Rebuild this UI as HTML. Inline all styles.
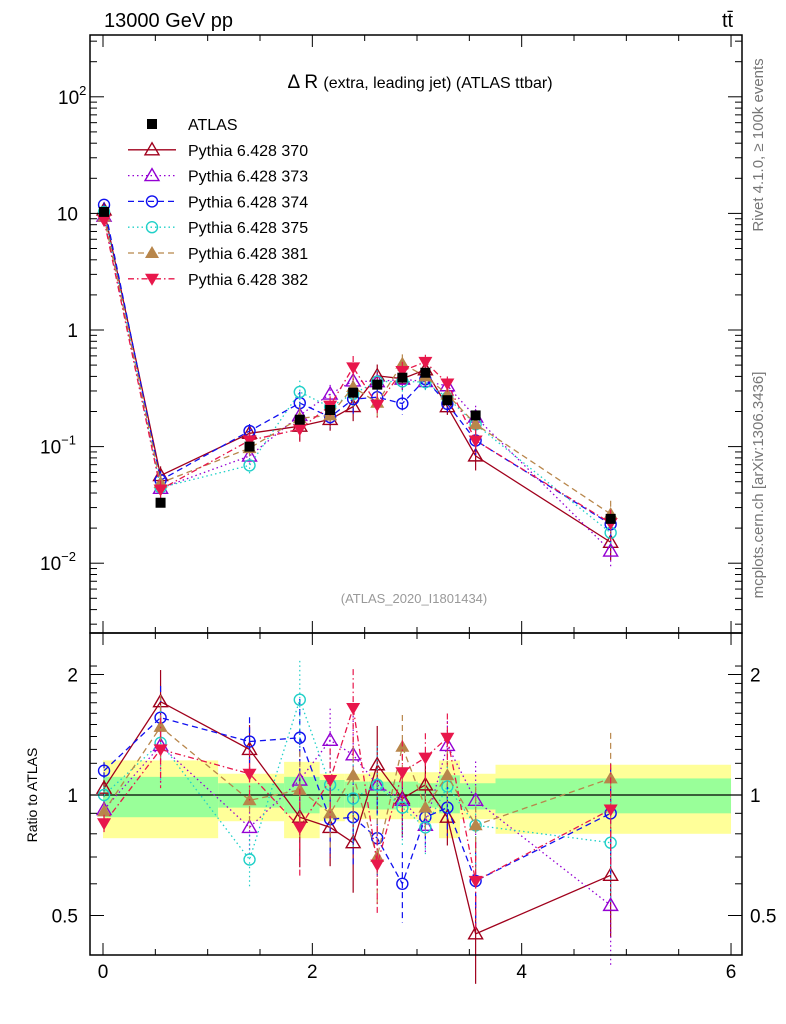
<!DOCTYPE html>
<html><head><meta charset="utf-8"><style>
html,body{margin:0;padding:0;background:#fff;}
svg{display:block;font-family:"Liberation Sans",sans-serif;}
</style></head><body>
<svg id="chart" width="786" height="1024" viewBox="0 0 786 1024" xmlns="http://www.w3.org/2000/svg">
<text x="104" y="27" font-size="20">13000 GeV pp</text>
<text x="722" y="27" font-size="20">tt̄</text>
<text x="420" y="88" font-size="19" text-anchor="middle">Δ R <tspan font-size="16">(extra, leading jet) (ATLAS ttbar)</tspan></text>
<text x="414" y="603" font-size="13" fill="#999" text-anchor="middle">(ATLAS_2020_I1801434)</text>
<text transform="translate(763,145) rotate(-90)" font-size="15" fill="#777" text-anchor="middle">Rivet 4.1.0, ≥ 100k events</text>
<text transform="translate(763,485) rotate(-90)" font-size="15" fill="#777" text-anchor="middle">mcplots.cern.ch [arXiv:1306.3436]</text>
<text transform="translate(37,795) rotate(-90)" font-size="14" text-anchor="middle">Ratio to ATLAS</text>
<g id="bands"></g>
<g id="main"></g>
<g id="ratio"></g>
<g id="axes"></g>
<g id="legend"></g>
</svg>
<script>
const xs = [0.01,0.55,1.4,1.88,2.17,2.39,2.62,2.86,3.08,3.29,3.56,4.85];
const atlas = [10.3,0.033,0.1,0.17,0.206,0.29,0.34,0.39,0.43,0.25,0.185,0.024];
const relErr = [0.05,0.2,0.15,0.25,0.2,0.25,0.25,0.2,0.15,0.15,0.25,0.3];
const r370 = [1.04,1.71,1.30,0.88,0.83,0.76,1.19,0.98,1.06,0.88,0.45,0.63];
const r373 = [0.92,1.33,0.83,1.09,1.37,1.26,1.06,0.97,0.84,1.33,0.97,0.53];
const r374 = [1.15,1.56,1.36,1.39,0.87,0.88,0.78,0.60,0.88,0.93,0.61,0.90];
const r375 = [1.00,1.35,0.69,1.73,1.06,0.98,1.06,0.93,0.83,1.05,0.84,0.76];
const r381 = [0.91,1.48,0.97,1.03,0.90,1.12,0.70,1.32,0.93,1.12,0.84,1.10];
const r382 = [0.85,1.30,1.13,0.83,1.09,1.65,0.67,1.14,1.24,1.39,0.61,0.92];
const binEdges = [0,1.1,1.73,2.07,2.31,2.54,2.8,3.01,3.21,3.41,3.75,6];
const yelHi = [1.22,1.13,1.21,1.13,1.13,1.14,1.14,1.14,1.22,1.13,1.19];
const yelLo = [0.78,0.86,0.78,0.86,0.87,0.87,0.87,0.85,0.78,0.87,0.80];
const grnHi = [1.11,1.07,1.11,1.09,1.08,1.08,1.08,1.07,1.12,1.07,1.10];
const grnLo = [0.88,0.93,0.90,0.93,0.93,0.92,0.93,0.93,0.90,0.92,0.90];
const seriesNames = ["Pythia 6.428 370","Pythia 6.428 373","Pythia 6.428 374","Pythia 6.428 375","Pythia 6.428 381","Pythia 6.428 382"];

const NS="http://www.w3.org/2000/svg";
const L=90,R=742,T=35,MB=633,RB=955;
const X=v=>103+v*104.67;
const Y=v=>330-Math.log10(v)*116.6;
const RY=v=>795-Math.log2(v)*120.5;
function el(tag,attrs,parent){const e=document.createElementNS(NS,tag);for(const k in attrs)e.setAttribute(k,attrs[k]);parent.appendChild(e);return e;}
const styles=[
 {c:"#a0001c",d:"",m:"tri"},
 {c:"#9400d3",d:"1.5,3",m:"tri"},
 {c:"#1010f0",d:"6,4",m:"circ"},
 {c:"#20d0c8",d:"1.5,3",m:"circ"},
 {c:"#b8864b",d:"6,4",m:"ftri"},
 {c:"#e8174b",d:"6,3,1.5,3",m:"dtri"}];
const ratios=[r370,r373,r374,r375,r381,r382];
function marker(g,m,x,y,c){
 if(m==="tri")return el("polygon",{points:`${x},${y-7} ${x-7},${y+5} ${x+7},${y+5}`,fill:"none",stroke:c,"stroke-width":1.4},g);
 if(m==="ftri")return el("polygon",{points:`${x},${y-7} ${x-7},${y+5} ${x+7},${y+5}`,fill:c},g);
 if(m==="dtri")return el("polygon",{points:`${x},${y+7} ${x-7},${y-5} ${x+7},${y-5}`,fill:c},g);
 return el("circle",{cx:x,cy:y,r:5.5,fill:"none",stroke:c,"stroke-width":1.4},g);
}
const bg=document.getElementById("bands");
for(let i=0;i<binEdges.length-1;i++){
 const x1=X(binEdges[i]),x2=X(binEdges[i+1]);
 const y=el("rect",{x:x1,y:RY(yelHi[i]),width:x2-x1,height:RY(yelLo[i])-RY(yelHi[i]),fill:"#ffff99"},bg);
 
 
 const g=el("rect",{x:x1,y:RY(grnHi[i]),width:x2-x1,height:RY(grnLo[i])-RY(grnHi[i]),fill:"#99ff99"},bg);
 
 
}
el("line",{x1:L,x2:R,y1:RY(1),y2:RY(1),stroke:"#000","stroke-width":1.3},bg);
const mg=document.getElementById("main"),rg=document.getElementById("ratio");
ratios.forEach((rv,s)=>{
 const st=styles[s];
 const vals=rv.map((r,i)=>atlas[i]*r);
 const gm=el("g",{},mg);
 
 
 const gr=el("g",{},rg);
 
 
 el("polyline",{points:xs.map((x,i)=>X(x)+","+Y(vals[i])).join(" "),fill:"none",stroke:st.c,"stroke-width":1.3,"stroke-dasharray":st.d},gm);
 el("polyline",{points:xs.map((x,i)=>X(x)+","+RY(rv[i])).join(" "),fill:"none",stroke:st.c,"stroke-width":1.3,"stroke-dasharray":st.d},gr);
 xs.forEach((x,i)=>{
  const e=relErr[i];
  el("line",{x1:X(x),x2:X(x),y1:Y(vals[i]*(1+e)),y2:Y(vals[i]*(1-e)),stroke:st.c,"stroke-width":1.2,"stroke-dasharray":st.d},gm);
  el("line",{x1:X(x),x2:X(x),y1:RY(rv[i]*(1+e)),y2:RY(rv[i]*(1-e)),stroke:st.c,"stroke-width":1.2,"stroke-dasharray":st.d},gr);
  const a=marker(gm,st.m,X(x),Y(vals[i]),st.c);
  
  
  const b=marker(gr,st.m,X(x),RY(rv[i]),st.c);
  
  
 });
});
xs.forEach((x,i)=>{
 const s=el("rect",{x:X(x)-5,y:Y(atlas[i])-5,width:10,height:10,fill:"#000"},mg);
 
 
});
const ax=document.getElementById("axes");
el("rect",{x:L,y:T,width:R-L,height:MB-T,fill:"none",stroke:"#000","stroke-width":1.5},ax);
el("rect",{x:L,y:MB,width:R-L,height:RB-MB,fill:"none",stroke:"#000","stroke-width":1.5},ax);
for(let v=0;v<=6.01;v+=0.5){
 const x=X(v),len=(Math.abs(v%2)<0.01)?12:6;
 [[RB,-1],[MB,-1],[MB,1],[T,1]].forEach(([y,d])=>el("line",{x1:x,x2:x,y1:y,y2:y+d*len,stroke:"#000"},ax));
}
[0,2,4,6].forEach(v=>{const t=el("text",{x:X(v),y:978,"font-size":19,"text-anchor":"middle"},ax);t.textContent=v;
 
 });
for(let p=-3;p<=2;p++){for(let m=1;m<10;m++){const v=m*Math.pow(10,p);const y=Y(v);if(y<T||y>MB)continue;
 const len=m===1?14:7;
 el("line",{x1:L,x2:L+len,y1:y,y2:y,stroke:"#000"},ax);
 el("line",{x1:R,x2:R-len,y1:y,y2:y,stroke:"#000"},ax);}}
const ylab=[[2,"10<tspan font-size='13' dy='-9'>2</tspan>"],[1,"10"],[0,"1"],[-1,"10<tspan font-size='13' dy='-9'>−1</tspan>"],[-2,"10<tspan font-size='13' dy='-9'>−2</tspan>"]];
ylab.forEach(([p,h])=>{const t=el("text",{x:78,y:Y(Math.pow(10,p))+7,"font-size":19,"text-anchor":"end"},ax);t.innerHTML=h;
 if(p===2||p<0){t.setAttribute("x",58);t.setAttribute("text-anchor","start");if(p<0)t.setAttribute("x",40);}
 
 });
[0.5,0.6,0.7,0.8,0.9,1,2].forEach(v=>{const y=RY(v);const len=(v===1||v===2||v===0.5)?14:7;
 el("line",{x1:L,x2:L+len,y1:y,y2:y,stroke:"#000"},ax);el("line",{x1:R,x2:R-len,y1:y,y2:y,stroke:"#000"},ax);});
for(let v=1.1;v<2.2;v+=0.1){const y=RY(v);if(y<MB)continue;el("line",{x1:L,x2:L+7,y1:y,y2:y,stroke:"#000"},ax);el("line",{x1:R,x2:R-7,y1:y,y2:y,stroke:"#000"},ax);}
[[2,"2"],[1,"1"],[0.5,"0.5"]].forEach(([v,s])=>{
 const a=el("text",{x:78,y:RY(v)+7,"font-size":19,"text-anchor":"end"},ax);a.textContent=s;
 
 
 const b=el("text",{x:750,y:RY(v)+7,"font-size":19},ax);b.textContent=s;
 
 });
const lg=document.getElementById("legend");
const ly0=124,ldy=25.8;
const e0=el("g",{},lg);


el("rect",{x:147,y:ly0-5,width:10,height:10,fill:"#000"},e0);
const t0=el("text",{x:188,y:ly0+6,"font-size":16},e0);t0.textContent="ATLAS";
styles.forEach((st,s)=>{const y=ly0+(s+1)*ldy;
 const g=el("g",{},lg);
 
 
 el("line",{x1:128,x2:176,y1:y,y2:y,stroke:st.c,"stroke-width":1.3,"stroke-dasharray":st.d},g);
 marker(g,st.m,152,y,st.c);
 const t=el("text",{x:188,y:y+6,"font-size":16},g);t.textContent=seriesNames[s];});
</script>
</body></html>
